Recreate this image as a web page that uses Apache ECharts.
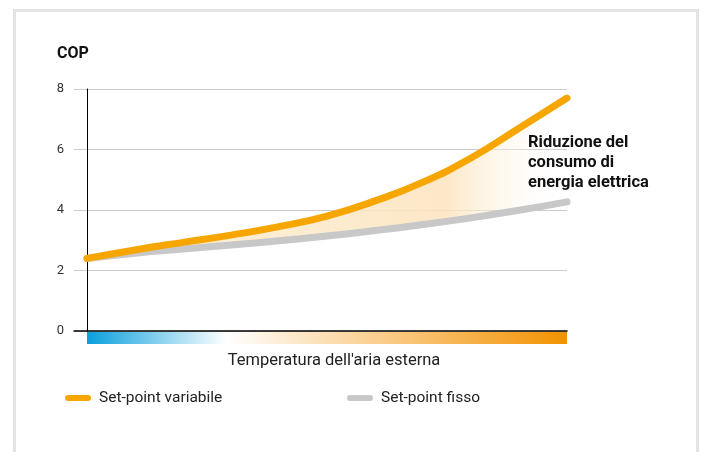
<!DOCTYPE html>
<html>
<head>
<meta charset="utf-8">
<script src="https://cdn.jsdelivr.net/npm/echarts@6/dist/echarts.min.js"></script>
<style>
html,body{margin:0;padding:0;background:#fff;}
#chart{width:703px;height:452px;}
</style>
</head>
<body>
<div id="chart"></div>
<script>
// Data
var xPositions = ['0', '10', '20', '30', '40', '50', '60', '70', '80', '90', '100'];
var variabile = [2.40, 2.68, 2.93, 3.17, 3.45, 3.80, 4.30, 4.92, 5.72, 6.70, 7.70];
var fisso = [2.40, 2.57, 2.71, 2.84, 2.98, 3.14, 3.32, 3.52, 3.74, 3.99, 4.27];
var yTicks = [0, 2, 4, 6, 8];
var seriesNames = ['Set-point variabile', 'Set-point fisso'];
var yAxisTitle = 'COP';
var xAxisTitle = "Temperatura dell'aria esterna";
var annotation = 'Riduzione del\nconsumo di\nenergia elettrica';

var FONT = 'Roboto, "Noto Sans", sans-serif';
var ORANGE = '#f7a600';
var GRAY = '#c8c8c8';

var diff = variabile.map(function (v, i) { return +(v - fisso[i]).toFixed(3); });
var yMin = yTicks[0], yMax = yTicks[yTicks.length - 1];
var legendIcon = 'path://M3,0 H23 A3,3 0 0 1 23,6 H3 A3,3 0 0 1 3,0 Z';

var chart = echarts.init(document.getElementById('chart'), null, { renderer: 'canvas' });

var option = {
  backgroundColor: '#ffffff',
  animation: false,
  textStyle: { fontFamily: FONT },
  grid: [
    { left: 74, right: 136, top: 89, bottom: 121, containLabel: false },
    { left: 87, right: 136, top: 89, bottom: 121, containLabel: false }
  ],
  xAxis: [
    {
      gridIndex: 0, type: 'value', min: 0, max: 1,
      axisLine: { show: true, onZero: false, lineStyle: { color: '#000', width: 1.5 } },
      axisTick: { show: false }, axisLabel: { show: false }, splitLine: { show: false }
    },
    {
      gridIndex: 1, type: 'category', data: xPositions, boundaryGap: false,
      axisLine: { show: false }, axisTick: { show: false }, axisLabel: { show: false }, splitLine: { show: false }
    }
  ],
  yAxis: [
    {
      gridIndex: 0, type: 'value', min: yMin, max: yMax, interval: 2,
      axisLine: { show: false }, axisTick: { show: false },
      axisLabel: { color: '#333', fontSize: 13, margin: 10, fontFamily: FONT },
      splitLine: { show: true, lineStyle: { color: '#cccccc', width: 1 } }
    },
    {
      gridIndex: 1, type: 'value', min: yMin, max: yMax, interval: 2,
      axisLine: { show: true, onZero: false, lineStyle: { color: '#000', width: 1 } },
      axisTick: { show: false }, axisLabel: { show: false }, splitLine: { show: false }
    }
  ],
  legend: [
    {
      left: 65, top: 390, padding: 0, data: [seriesNames[0]], icon: legendIcon,
      itemWidth: 26, itemHeight: 6, selectedMode: false,
      textStyle: { fontSize: 15.5, color: '#222', fontFamily: FONT, padding: [0, 0, 0, 3] }
    },
    {
      left: 347, top: 390, padding: 0, data: [seriesNames[1]], icon: legendIcon,
      itemWidth: 26, itemHeight: 6, selectedMode: false,
      textStyle: { fontSize: 15.5, color: '#222', fontFamily: FONT, padding: [0, 0, 0, 3] }
    }
  ],
  series: [
    {
      name: seriesNames[1], type: 'line', xAxisIndex: 1, yAxisIndex: 1,
      stack: 'gap', smooth: 0.5, showSymbol: false, z: 3,
      color: GRAY,
      data: fisso,
      lineStyle: { color: GRAY, width: 7, cap: 'round', join: 'round' }
    },
    {
      name: 'gap', type: 'line', xAxisIndex: 1, yAxisIndex: 1,
      stack: 'gap', smooth: 0.5, showSymbol: false, z: 2,
      data: diff,
      lineStyle: { width: 0, opacity: 0 },
      areaStyle: {
        opacity: 1,
        color: {
          type: 'linear', x: 0, y: 0, x2: 1, y2: 0,
          colorStops: [
            { offset: 0, color: 'rgba(252,238,210,0.8)' },
            { offset: 0.75, color: 'rgba(252,228,190,0.85)' },
            { offset: 1, color: 'rgba(255,255,255,0)' }
          ]
        }
      }
    },
    {
      name: seriesNames[0], type: 'line', xAxisIndex: 1, yAxisIndex: 1,
      smooth: 0.5, showSymbol: false, z: 4,
      color: ORANGE,
      data: variabile,
      lineStyle: { color: ORANGE, width: 7, cap: 'round', join: 'round' }
    }
  ],
  graphic: [
    {
      id: 'frame', type: 'rect', silent: true, z: 100,
      shape: { x: 14.5, y: 10.5, width: 683, height: 470 },
      style: { fill: null, stroke: '#e3e3e3', lineWidth: 3 }
    },
    {
      id: 'cop', type: 'text', left: 57, top: 46, z: 100,
      style: { text: yAxisTitle, font: 'bold 16px ' + FONT, fill: '#111' }
    },
    {
      id: 'annot', type: 'text', left: 528, top: 133, z: 100,
      style: { text: annotation, font: 'bold 16.5px ' + FONT, fill: '#111', lineHeight: 20 }
    },
    {
      id: 'xtitle', type: 'text', x: 334, y: 361, z: 100,
      style: { text: xAxisTitle, font: '16.5px ' + FONT, fill: '#222', textAlign: 'center', textVerticalAlign: 'middle' }
    }
  ]
};

chart.setOption(option);

var p0 = chart.convertToPixel({ xAxisIndex: 1, yAxisIndex: 1 }, [0, 0]);
var p1 = chart.convertToPixel({ xAxisIndex: 1, yAxisIndex: 1 }, [xPositions.length - 1, 0]);
chart.setOption({
  graphic: [{
    id: 'tempbar', type: 'rect', silent: true, z: 50,
    shape: { x: p0[0], y: p0[1] + 1, width: p1[0] - p0[0], height: 12 },
    style: {
      fill: {
        type: 'linear', x: 0, y: 0, x2: 1, y2: 0,
        colorStops: [
          { offset: 0, color: '#0a9fdc' },
          { offset: 0.29, color: '#ffffff' },
          { offset: 1, color: '#f39200' }
        ]
      }
    }
  }]
});
</script>
</body>
</html>
